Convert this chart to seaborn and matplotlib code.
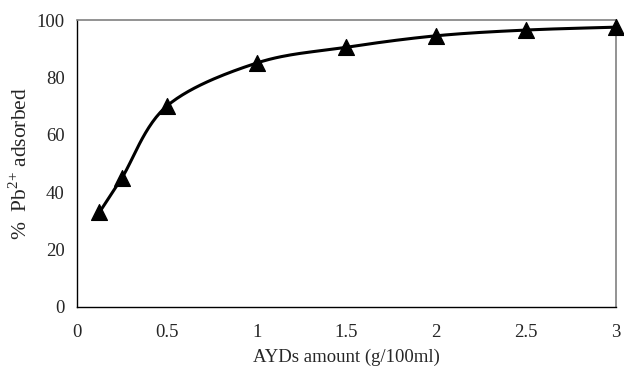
import numpy as np
import pandas as pd
import seaborn as sns
import matplotlib
matplotlib.use("Agg")
import matplotlib.pyplot as plt

dose = [0.125, 0.25, 0.5, 1.0, 1.5, 2.0, 2.5, 3.0]
adsorbed = [33, 45, 70, 85, 90.5, 94.5, 96.5, 97.5]
xticks = [0, 0.5, 1, 1.5, 2, 2.5, 3]
xticklabels = ["0", "0.5", "1", "1.5", "2", "2.5", "3"]
yticks = [0, 20, 40, 60, 80, 100]

sns.set_theme(style="white")
plt.rcParams['font.family'] = ['Liberation Serif', 'DejaVu Serif']
plt.rcParams['mathtext.fontset'] = 'custom'
plt.rcParams['mathtext.rm'] = 'Liberation Serif'

df = pd.DataFrame({"x": dose, "y": adsorbed})

# Bezier (Catmull-Rom) smoothing like a spreadsheet "smoothed line"
def smooth(xs, ys, n=30):
    P = np.column_stack([np.asarray(xs, float), np.asarray(ys, float)])
    P = np.vstack([P[0], P, P[-1]])
    out = []
    for i in range(1, len(P) - 2):
        p0, p1, p2, p3 = P[i-1], P[i], P[i+1], P[i+2]
        t = np.linspace(0, 1, n)[:, None]
        c = 0.5 * ((2*p1) + (-p0 + p2)*t + (2*p0 - 5*p1 + 4*p2 - p3)*t**2 + (-p0 + 3*p1 - 3*p2 + p3)*t**3)
        out.append(c if i == 1 else c[1:])
    c = np.vstack(out)
    return c[:, 0], c[:, 1]

sx, sy = smooth(dose, adsorbed)
curve = pd.DataFrame({"x": sx, "y": sy})

fig = plt.figure(figsize=(6.24, 3.67), dpi=100)
ax = fig.add_axes([0.1234, 0.1635, 0.8636, 0.782])
sns.lineplot(data=curve, x="x", y="y", ax=ax, color="black", linewidth=2.2, sort=False, estimator=None)
sns.scatterplot(data=df, x="x", y="y", ax=ax, marker="^", s=130, color="black", edgecolor="black", zorder=5, clip_on=False)

ax.set_xlim(0, 3)
ax.set_ylim(0, 100)
ax.set_xticks(xticks)
ax.set_xticklabels(xticklabels)
ax.set_yticks(yticks)
ax.tick_params(axis="both", direction="out", length=6, width=1, color="black", labelsize=13.5, pad=3)
ax.tick_params(axis="x", pad=6)
ax.set_xlabel("AYDs amount (g/100ml)", fontsize=13.5, labelpad=6)
ax.set_ylabel("%  Pb$^{2{+}}$ adsorbed", fontsize=15.5, labelpad=3)
for s in ["left", "bottom"]:
    ax.spines[s].set_color("black"); ax.spines[s].set_linewidth(1)
for s in ["top", "right"]:
    ax.spines[s].set_color("#808080"); ax.spines[s].set_linewidth(1.2)
ax.grid(False)
fig.savefig("out.png", dpi=100)
